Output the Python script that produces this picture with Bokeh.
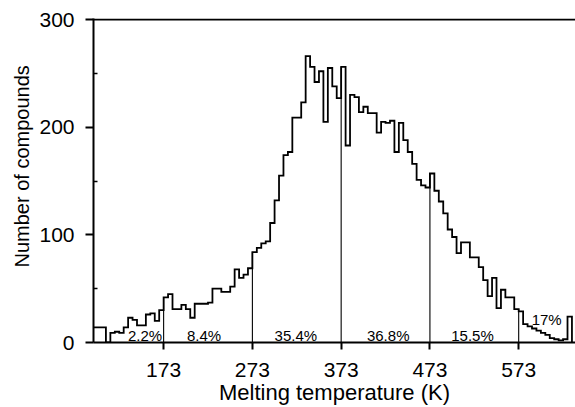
import numpy as np
from bokeh.plotting import figure
from bokeh.models import FixedTicker, ColumnDataSource, Span, Title
from bokeh.core.properties import value
from bokeh.embed import file_html
from bokeh.resources import INLINE

# ---- data ----
bin_start = 93          # K, left edge of first bin
bin_width = 5           # K
counts = [14, 14, 14, 0, 9, 10, 9, 14, 23, 21,
          16, 16, 26, 27, 20, 30, 42, 45, 31, 31,
          35, 31, 23, 36, 36, 36, 37, 50, 50, 47,
          47, 52, 68, 60, 63, 69, 84, 88, 92, 94,
          111, 132, 155, 174, 177, 209, 209, 223, 266, 256,
          242, 252, 205, 255, 238, 227, 256, 183, 230, 228,
          214, 219, 213, 213, 195, 205, 204, 206, 177, 204,
          188, 177, 166, 151, 146, 144, 157, 141, 131, 120,
          105, 98, 83, 93, 93, 79, 79, 70, 58, 43,
          60, 32, 49, 42, 42, 31, 29, 17, 15, 13,
          11, 9, 7, 4, 3, 2, 3, 24]
boundaries = [173, 273, 373, 473, 573]
x_ticks = [173, 273, 373, 473, 573]
y_ticks = [0, 100, 200, 300]
y_minor = [50, 150, 250]
pct_text = ["2.2%", "8.4%", "35.4%", "36.8%", "15.5%", "17%"]
pct_x = [152, 218.5, 322, 426, 521, 604.5]
pct_y = [6.5, 6.5, 6.5, 6.5, 6.5, 21.3]

FONT = "Liberation Sans"

# ---- derived step outline ----
counts_arr = np.array(counts, dtype=float)
edges = bin_start + bin_width * np.arange(len(counts) + 1)
xs = [edges[0]]
ys = [0.0]
for i, c in enumerate(counts_arr):
    xs += [edges[i], edges[i + 1]]
    ys += [c, c]
xs.append(edges[-1])
ys.append(0.0)

# divider heights: up to histogram at each boundary
div_h = []
for b in boundaries:
    i = int(round((b - bin_start) / bin_width))
    div_h.append(max(counts_arr[i - 1], counts_arr[i]))

p = figure(width=575, height=407, x_range=(94, 637), y_range=(0, 301),
           output_backend="svg", toolbar_location=None,
           min_border_left=93, min_border_right=0, min_border_top=18,
           min_border_bottom=64)
p.outline_line_color = None
p.xgrid.visible = False
p.ygrid.visible = False
p.background_fill_color = "white"
p.border_fill_color = "white"

p.segment(x0=boundaries, y0=[0] * len(boundaries), x1=boundaries, y1=div_h,
          line_color="black", line_width=1.1)
p.line(xs, ys, line_color="black", line_width=1.8, line_join="miter")

src = ColumnDataSource(dict(x=pct_x, y=pct_y, t=pct_text))
p.text(x="x", y="y", text="t", source=src, text_font=value(FONT),
       text_font_size=value("15px"), text_align="center",
       text_baseline="middle", text_color="black")

p.add_layout(Span(location=300, dimension="width", line_color="black",
                  line_width=2))

# y axis
ya = p.yaxis[0]
ya.ticker = FixedTicker(ticks=y_ticks, minor_ticks=y_minor)
ya.axis_line_width = 2
ya.major_tick_line_width = 2
ya.minor_tick_line_width = 1.5
ya.major_tick_out = 8
ya.major_tick_in = 0
ya.minor_tick_out = 0
ya.minor_tick_in = 4
ya.major_label_text_font = FONT
ya.major_label_text_font_size = "21px"
ya.major_label_text_color = "black"
ya.major_label_standoff = 11

# x axis
xa = p.xaxis[0]
xa.ticker = FixedTicker(ticks=x_ticks, minor_ticks=[])
xa.axis_line_width = 2
xa.major_tick_line_width = 2
xa.major_tick_out = 7
xa.major_tick_in = 0
xa.major_label_text_font = FONT
xa.major_label_text_font_size = "21px"
xa.major_label_text_color = "black"
xa.major_label_standoff = 13
xa.axis_label = "Melting temperature (K)"
xa.axis_label_text_font = FONT
xa.axis_label_text_font_size = "22px"
xa.axis_label_text_font_style = "normal"
xa.axis_label_text_color = "black"
xa.axis_label_standoff = 0

ytitle = Title(text="Number of compounds", align="left", offset=75,
               text_font=FONT, text_font_size="20px",
               text_font_style="normal", text_color="black", standoff=8)
p.add_layout(ytitle, "left")

open("out.html", "w").write(file_html(p, INLINE))
